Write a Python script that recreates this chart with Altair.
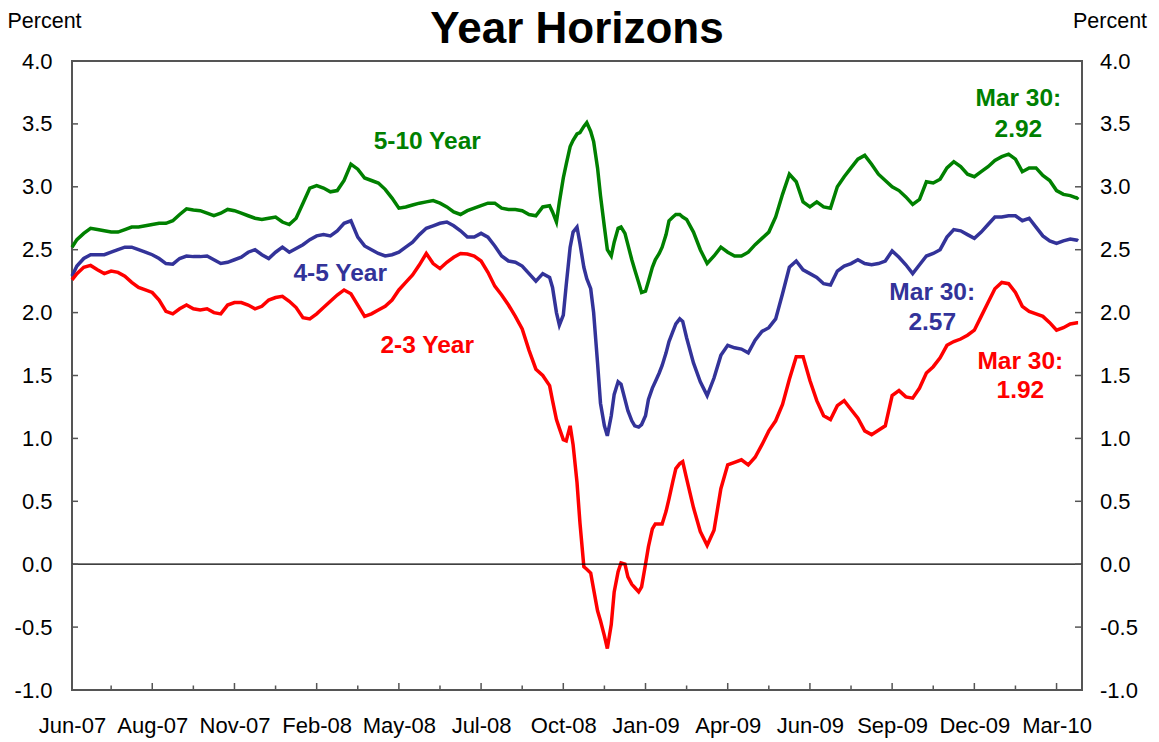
import altair as alt
import pandas as pd

FONT = "Liberation Sans"

# ---------------- data ----------------
dates = [
    "2007-06-06", "2007-06-11", "2007-06-18", "2007-06-25",
    "2007-07-02", "2007-07-09", "2007-07-16", "2007-07-23", "2007-07-30",
    "2007-08-06", "2007-08-13", "2007-08-20", "2007-08-27",
    "2007-09-03", "2007-09-10", "2007-09-17", "2007-09-24",
    "2007-10-01", "2007-10-08", "2007-10-15", "2007-10-22", "2007-10-29",
    "2007-11-05", "2007-11-12", "2007-11-19", "2007-11-26",
    "2007-12-03", "2007-12-10", "2007-12-17", "2007-12-24", "2007-12-31",
    "2008-01-07", "2008-01-14", "2008-01-21", "2008-01-28",
    "2008-02-04", "2008-02-11", "2008-02-18", "2008-02-25",
    "2008-03-03", "2008-03-10", "2008-03-17", "2008-03-24", "2008-03-31",
    "2008-04-07", "2008-04-14", "2008-04-21", "2008-04-28",
    "2008-05-05", "2008-05-12", "2008-05-19", "2008-05-26",
    "2008-06-02", "2008-06-09", "2008-06-16", "2008-06-23", "2008-06-30",
    "2008-07-07", "2008-07-14", "2008-07-21", "2008-07-28",
    "2008-08-04", "2008-08-11", "2008-08-18", "2008-08-25",
    "2008-09-01", "2008-09-08", "2008-09-15", "2008-09-22", "2008-09-29",
    "2008-10-06", "2008-10-09", "2008-10-13", "2008-10-16", "2008-10-20", "2008-10-23", "2008-10-27", "2008-10-30",
    "2008-11-03", "2008-11-06", "2008-11-10", "2008-11-13", "2008-11-17", "2008-11-20", "2008-11-24", "2008-11-27",
    "2008-12-01", "2008-12-04", "2008-12-08", "2008-12-11", "2008-12-15", "2008-12-18", "2008-12-22", "2008-12-25", "2008-12-29", "2009-01-01",
    "2009-01-05", "2009-01-08", "2009-01-12", "2009-01-15", "2009-01-19", "2009-01-22", "2009-01-26", "2009-01-29",
    "2009-02-02", "2009-02-05", "2009-02-09", "2009-02-12", "2009-02-16", "2009-02-19", "2009-02-23",
    "2009-03-02", "2009-03-09", "2009-03-16", "2009-03-23", "2009-03-30",
    "2009-04-06", "2009-04-13", "2009-04-20", "2009-04-27",
    "2009-05-04", "2009-05-11", "2009-05-18", "2009-05-25",
    "2009-06-01", "2009-06-08", "2009-06-15", "2009-06-22", "2009-06-29",
    "2009-07-06", "2009-07-13", "2009-07-20", "2009-07-27",
    "2009-08-03", "2009-08-10", "2009-08-17", "2009-08-24", "2009-08-31",
    "2009-09-07", "2009-09-14", "2009-09-21", "2009-09-28",
    "2009-10-05", "2009-10-12", "2009-10-19", "2009-10-26",
    "2009-11-02", "2009-11-09", "2009-11-16", "2009-11-23", "2009-11-30",
    "2009-12-07", "2009-12-14", "2009-12-21", "2009-12-28",
    "2010-01-04", "2010-01-11", "2010-01-18", "2010-01-25",
    "2010-02-01", "2010-02-08", "2010-02-15", "2010-02-22",
    "2010-03-01", "2010-03-08", "2010-03-15", "2010-03-22", "2010-03-29", "2010-03-30",
]

green_5_10 = [
    2.52, 2.58, 2.63, 2.67,
    2.66, 2.65, 2.64, 2.64, 2.66,
    2.68, 2.68, 2.69, 2.70,
    2.71, 2.71, 2.73, 2.78,
    2.825, 2.815, 2.81, 2.79, 2.77,
    2.79, 2.82, 2.81, 2.79,
    2.77, 2.75, 2.74, 2.75, 2.76,
    2.72, 2.70, 2.75, 2.87,
    2.99, 3.01, 2.99, 2.96,
    2.97, 3.05, 3.18, 3.14, 3.07,
    3.05, 3.03, 2.98, 2.91,
    2.83, 2.84, 2.855, 2.87,
    2.88, 2.89, 2.87, 2.84, 2.80,
    2.78, 2.81, 2.83, 2.85,
    2.87, 2.87, 2.83, 2.82,
    2.82, 2.81, 2.78, 2.77, 2.84,
    2.85, 2.80, 2.72, 2.88, 3.07, 3.18, 3.32, 3.37,
    3.42, 3.43, 3.48, 3.51, 3.44, 3.36, 3.15, 2.93,
    2.68, 2.50, 2.45, 2.56, 2.67, 2.68, 2.63, 2.54, 2.42, 2.34,
    2.24, 2.16, 2.17, 2.25, 2.36, 2.42, 2.47, 2.52,
    2.62, 2.73, 2.76, 2.78, 2.78, 2.76, 2.74,
    2.64, 2.50, 2.39, 2.45, 2.52,
    2.48, 2.45, 2.45, 2.48,
    2.54, 2.59, 2.64, 2.76,
    2.94, 3.10, 3.04, 2.88, 2.84,
    2.88, 2.84, 2.83, 3.00,
    3.08, 3.15, 3.22, 3.25, 3.18,
    3.10, 3.05, 3.00, 2.97,
    2.92, 2.86, 2.90, 3.04,
    3.03, 3.06, 3.15, 3.20, 3.16,
    3.10, 3.08, 3.12, 3.16,
    3.21, 3.24, 3.26, 3.22,
    3.12, 3.15, 3.15, 3.09,
    3.05, 2.97, 2.94, 2.93, 2.91, 2.92,
]

blue_4_5 = [
    2.29, 2.37, 2.43, 2.46,
    2.46, 2.46, 2.48, 2.50, 2.52,
    2.52, 2.50, 2.48, 2.46,
    2.43, 2.39, 2.385, 2.43,
    2.45, 2.445, 2.445, 2.45, 2.42,
    2.39, 2.40, 2.42, 2.44,
    2.48, 2.50, 2.46, 2.43, 2.48,
    2.52, 2.48, 2.51, 2.54,
    2.58, 2.61, 2.62, 2.61,
    2.65, 2.71, 2.73, 2.60, 2.53,
    2.50, 2.47, 2.45, 2.46,
    2.48, 2.52, 2.56, 2.62,
    2.67, 2.69, 2.71, 2.72, 2.69,
    2.65, 2.60, 2.60, 2.63,
    2.60, 2.53, 2.45, 2.41,
    2.40, 2.37, 2.31, 2.25, 2.31,
    2.28, 2.20, 2.00, 1.90, 1.98, 2.22, 2.52, 2.64,
    2.68, 2.55, 2.36, 2.27, 2.19, 2.00, 1.60, 1.28,
    1.10, 1.02, 1.18, 1.35, 1.45, 1.43, 1.31, 1.22, 1.14, 1.10,
    1.09, 1.11, 1.18, 1.31, 1.40, 1.45, 1.52, 1.58,
    1.68, 1.77, 1.85, 1.91, 1.95, 1.93, 1.80,
    1.60, 1.45, 1.34, 1.48, 1.66,
    1.74, 1.72, 1.71, 1.68,
    1.78, 1.85, 1.88, 1.95,
    2.15, 2.36, 2.41, 2.34, 2.31,
    2.28, 2.23, 2.22, 2.33,
    2.37, 2.39, 2.42, 2.39, 2.38,
    2.39, 2.41, 2.49, 2.44,
    2.38, 2.31, 2.38, 2.45,
    2.47, 2.50, 2.60, 2.66, 2.65,
    2.62, 2.59, 2.64, 2.70,
    2.76, 2.76, 2.77, 2.77,
    2.73, 2.75, 2.68, 2.61,
    2.57, 2.55, 2.57, 2.585, 2.575, 2.57,
]

red_2_3 = [
    2.26, 2.31, 2.36, 2.375,
    2.34, 2.31, 2.33, 2.32, 2.29,
    2.24, 2.20, 2.18, 2.16,
    2.10, 2.01, 1.99, 2.03,
    2.06, 2.03, 2.02, 2.03, 2.00,
    1.99, 2.06, 2.08, 2.08,
    2.06, 2.03, 2.05, 2.10, 2.12,
    2.13, 2.09, 2.04, 1.96,
    1.95, 1.99, 2.04, 2.09,
    2.14, 2.18, 2.15, 2.06, 1.97,
    1.99, 2.02, 2.05, 2.10,
    2.18, 2.24, 2.30, 2.38,
    2.47, 2.39, 2.35, 2.40, 2.44,
    2.47, 2.465, 2.45, 2.41,
    2.32, 2.21, 2.14, 2.06,
    1.97, 1.87, 1.70, 1.55, 1.50,
    1.42, 1.30, 1.15, 1.08, 0.99, 0.98, 1.10, 0.95,
    0.65, 0.33, -0.02, -0.04, -0.07, -0.20, -0.37, -0.45,
    -0.57, -0.67, -0.48, -0.22, -0.06, 0.01, 0.00, -0.10, -0.16, -0.185,
    -0.22, -0.18, 0.00, 0.14, 0.28, 0.32, 0.32, 0.32,
    0.42, 0.52, 0.66, 0.76, 0.80, 0.815, 0.68,
    0.45, 0.26, 0.15, 0.27, 0.60,
    0.79, 0.81, 0.83, 0.79,
    0.85, 0.95, 1.06, 1.14,
    1.27, 1.47, 1.65, 1.65, 1.46,
    1.30, 1.18, 1.15, 1.26,
    1.30, 1.23, 1.16, 1.06, 1.03,
    1.065, 1.10, 1.34, 1.38,
    1.33, 1.32, 1.40, 1.52,
    1.57, 1.64, 1.74, 1.77, 1.79,
    1.82, 1.86, 1.97, 2.08,
    2.19, 2.24, 2.23, 2.16,
    2.05, 2.01, 1.99, 1.97,
    1.92, 1.86, 1.88, 1.91, 1.92, 1.92,
]

series_names = ["5-10 Year", "4-5 Year", "2-3 Year"]
series_colors = ["#008000", "#333399", "#FF0000"]

y_tick_values = [-1.0, -0.5, 0.0, 0.5, 1.0, 1.5, 2.0, 2.5, 3.0, 3.5, 4.0]

# x-axis labels (Mmm-yy) and tick marks
x_label_dates = [(2007, 6, 6), (2007, 8, 27), (2007, 11, 19), (2008, 2, 11), (2008, 5, 5),
                 (2008, 7, 28), (2008, 10, 20), (2009, 1, 12), (2009, 4, 6), (2009, 6, 29),
                 (2009, 9, 21), (2009, 12, 14), (2010, 3, 8)]
x_major_ticks = ["2007-08-27", "2007-11-19", "2008-02-11", "2008-05-05", "2008-07-28",
                 "2008-10-20", "2009-01-12", "2009-04-06", "2009-06-29", "2009-09-21",
                 "2009-12-14", "2010-03-08"]
x_minor_ticks = ["2007-07-16", "2007-10-08", "2007-12-31", "2008-03-24", "2008-06-16",
                 "2008-09-08", "2008-12-01", "2009-02-23", "2009-05-18", "2009-08-10",
                 "2009-11-02", "2010-01-25"]

title_text = "Year Horizons"

label_texts = ["5-10 Year", "4-5 Year", "2-3 Year",
               "Mar 30:", "2.92", "Mar 30:", "2.57", "Mar 30:", "1.92"]
label_dates = ["2008-06-03", "2008-03-06", "2008-06-03",
               "2010-01-28", "2010-01-28", "2009-11-01", "2009-11-01", "2010-01-30", "2010-01-30"]
label_values = [3.357, 2.304, 1.738, 3.698, 3.452, 2.159, 1.921, 1.611, 1.373]
label_colors = ["#008000", "#333399", "#FF0000",
                "#008000", "#008000", "#333399", "#333399", "#FF0000", "#FF0000"]

# ---------------- build tables ----------------
rows = []
for name, vals in zip(series_names, [green_5_10, blue_4_5, red_2_3]):
    for d, v in zip(dates, vals):
        rows.append({"date": d, "value": v, "series": name})
df = pd.DataFrame(rows)

labels_df = pd.DataFrame({"date": label_dates, "value": label_values,
                          "label": label_texts, "color": label_colors})

W, H = 1010, 629
FRAME = "#555555"

xscale = alt.Scale(domain=[alt.DateTime(year=2007, month=6, date=6),
                           alt.DateTime(year=2010, month=4, date=3)])
yscale = alt.Scale(domain=[-1, 4], nice=False, zero=False)

label_expr = "datum.value < 0 ? '-' + format(-datum.value, '.1f') : format(datum.value, '.1f')"

x_axis = alt.Axis(
    values=[alt.DateTime(year=y, month=m, date=d) for (y, m, d) in x_label_dates],
    format="%b-%y", labelFont=FONT, labelFontSize=22, labelColor="black",
    labelPadding=42, labelBaseline="alphabetic", labelFlush=False, labelOverlap=False,
    ticks=False, tickSize=0, domain=False, grid=False, title=None,
)
y_left_axis = alt.Axis(
    orient="left", values=y_tick_values, labelExpr=label_expr,
    labelFont=FONT, labelFontSize=22, labelColor="black", labelPadding=20,
    ticks=False, tickSize=0, domain=False, grid=False,
    title="Percent", titleAngle=0, titleAlign="left", titleBaseline="alphabetic",
    titleX=-65, titleY=-34, titleFont=FONT, titleFontSize=21.5,
    titleFontWeight="normal", titleColor="black",
)
y_right_axis = alt.Axis(
    orient="right", values=y_tick_values, labelExpr=label_expr,
    labelFont=FONT, labelFontSize=22, labelColor="black", labelPadding=17.5,
    ticks=False, tickSize=0, domain=False, grid=False,
    title="Percent", titleAngle=0, titleAlign="left", titleBaseline="alphabetic",
    titleX=-9.5, titleY=-34, titleFont=FONT, titleFontSize=21.5,
    titleFontWeight="normal", titleColor="black",
)

lines = alt.Chart(df).mark_line(strokeWidth=3.5, interpolate="linear").encode(
    x=alt.X("date:T", scale=xscale, axis=x_axis),
    y=alt.Y("value:Q", scale=yscale, axis=y_left_axis),
    color=alt.Color("series:N", scale=alt.Scale(domain=series_names, range=series_colors),
                    legend=None),
)

zero_line = alt.Chart(pd.DataFrame({"level": [0.0]})).mark_rule(
    color="black", strokeWidth=1.2
).encode(y=alt.Y("level:Q", scale=yscale, axis=y_right_axis))

yt = pd.DataFrame({"tick": y_tick_values})
ytick_left = alt.Chart(yt).mark_rule(color=FRAME, strokeWidth=1.5).encode(
    y=alt.Y("tick:Q", scale=yscale, axis=None), x=alt.value(0), x2=alt.value(6))
ytick_right = alt.Chart(yt).mark_rule(color=FRAME, strokeWidth=1.5).encode(
    y=alt.Y("tick:Q", scale=yscale, axis=None), x=alt.value(W - 7), x2=alt.value(W))

xtick_major = alt.Chart(pd.DataFrame({"d": x_major_ticks})).mark_rule(
    color=FRAME, strokeWidth=1.5
).encode(x=alt.X("d:T", scale=xscale, axis=x_axis), y=alt.value(H), y2=alt.value(H - 7))
xtick_minor = alt.Chart(pd.DataFrame({"d": x_minor_ticks})).mark_rule(
    color=FRAME, strokeWidth=1.5
).encode(x=alt.X("d:T", scale=xscale, axis=x_axis), y=alt.value(H), y2=alt.value(H - 4.5))

texts = alt.Chart(labels_df).mark_text(
    font=FONT, fontSize=24.5, fontWeight="bold", align="center", baseline="middle"
).encode(
    x=alt.X("date:T", scale=xscale, axis=x_axis),
    y=alt.Y("value:Q", scale=yscale, axis=None),
    text="label:N",
    color=alt.Color("color:N", scale=None),
)

title_mark = alt.Chart(pd.DataFrame({"t": [title_text]})).mark_text(
    font=FONT, fontSize=44, fontWeight="bold", color="black",
    align="center", baseline="alphabetic"
).encode(text="t:N", x=alt.value(W / 2), y=alt.value(-18))

chart = alt.layer(
    lines, zero_line, ytick_left, ytick_right, xtick_major, xtick_minor, texts, title_mark
).resolve_scale(y="shared").resolve_axis(y="independent").properties(
    width=W, height=H,
    padding={"left": 64, "top": 53, "right": 69, "bottom": 50},
    autosize=alt.AutoSizeParams(type="none"),
).configure_view(stroke=FRAME, strokeWidth=2)

chart.save("out.html", embed_options={"renderer": "svg", "actions": False})
